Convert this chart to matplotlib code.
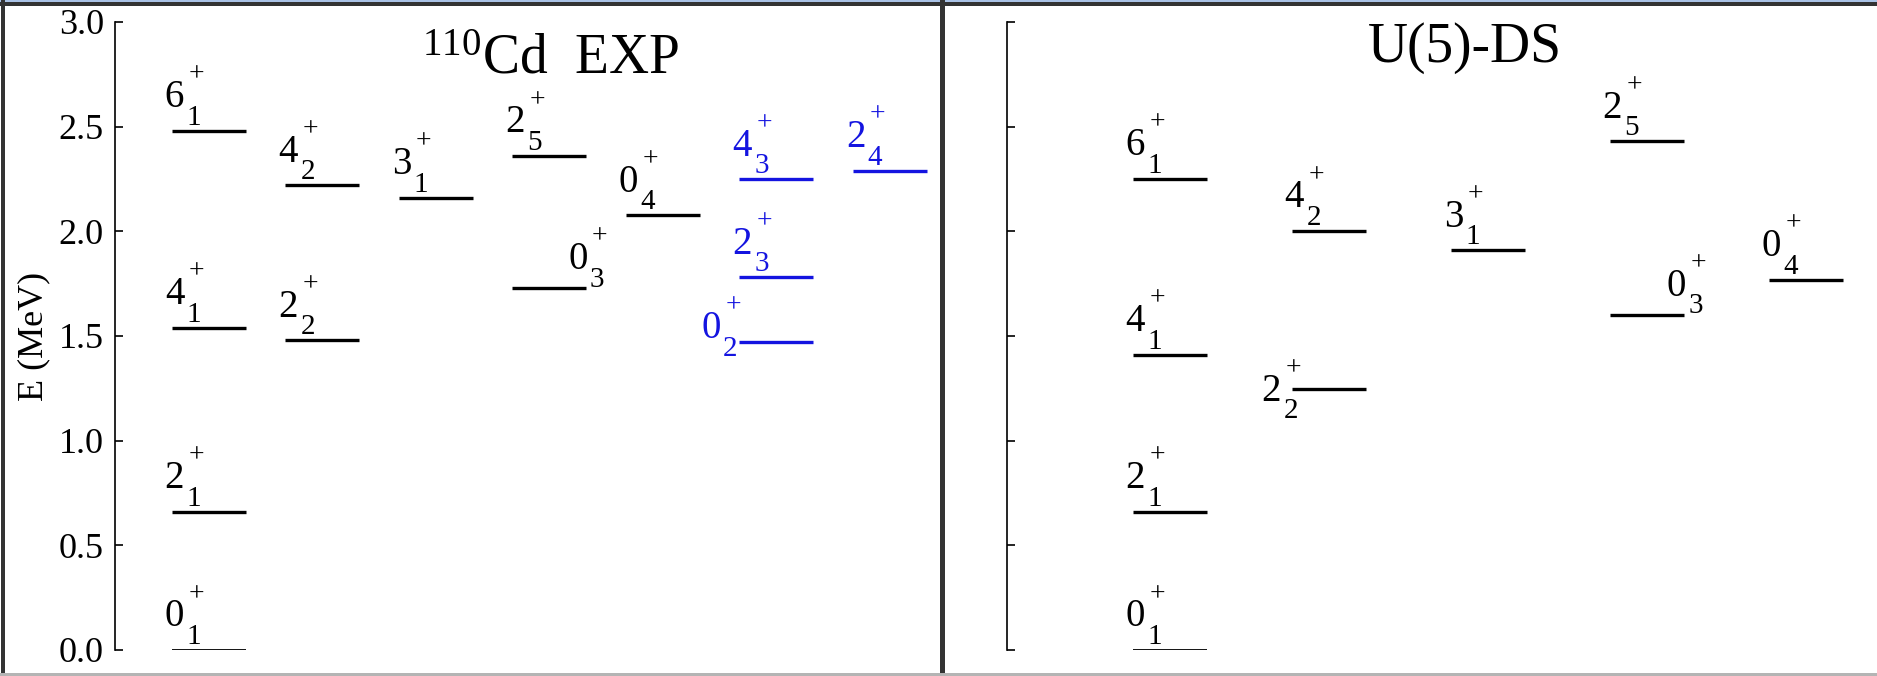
import numpy as np
import matplotlib.pyplot as plt
from matplotlib.patches import Rectangle

plt.rcParams['font.family'] = 'serif'
plt.rcParams['font.serif'] = ['Liberation Serif']
plt.rcParams['mathtext.fontset'] = 'custom'
plt.rcParams['mathtext.rm'] = 'Liberation Serif'
plt.rcParams['mathtext.it'] = 'Liberation Serif:italic'
plt.rcParams['mathtext.bf'] = 'Liberation Serif:bold'

# 110Cd experimental levels (MeV)
exp_states = ['0_1', '2_1', '4_1', '6_1', '2_2', '4_2', '3_1', '0_3', '2_5', '0_4', '0_2', '2_3', '4_3', '2_4']
exp_energy = [0.0, 0.661, 1.540, 2.480, 1.479, 2.220, 2.160, 1.728, 2.360, 2.078, 1.470, 1.781, 2.249, 2.289]
exp_column = [0, 0, 0, 0, 1, 1, 2, 3, 3, 4, 5, 5, 5, 6]
exp_intruder = ['0_2', '2_3', '4_3', '2_4']

# U(5) dynamical symmetry levels (MeV)
ds_states = ['0_1', '2_1', '4_1', '6_1', '2_2', '4_2', '3_1', '0_3', '2_5', '0_4']
ds_energy = [0.0, 0.661, 1.411, 2.251, 1.248, 2.002, 1.909, 1.601, 2.430, 1.769]
ds_column = [0, 0, 0, 0, 1, 1, 2, 3, 3, 4]

yticks = [0.0, 0.5, 1.0, 1.5, 2.0, 2.5, 3.0]

W, H = 1877, 676
fig = plt.figure(figsize=(W / 100, H / 100), dpi=100)


def px_box(x0, y0, x1, y1):
    return [x0 / W, 1 - y1 / H, (x1 - x0) / W, (y1 - y0) / H]


def put_label(ax, x, y, dx, dy, state, color):
    # J on the baseline, level index below, parity above (offsets in pixels)
    j, k = state.split('_')
    kw = dict(xycoords='data', textcoords='offset pixels', ha='left', color=color,
              annotation_clip=False)
    ax.annotate(j, (x, y), (dx, dy), va='baseline', fontsize=28, **kw)
    ax.annotate(k, (x, y), (dx + 22, dy - 17.5), va='baseline', fontsize=21, **kw)
    ax.annotate('+', (x, y), (dx + 24, dy + 32), va='center', fontsize=20, **kw)


def draw_levels(ax, states, energy, column, offset, width, placement, blue=()):
    for s, e, c in zip(states, energy, column):
        col = '#1414e0' if s in blue else 'black'
        x0 = offset + c
        x1 = x0 + width
        lw = 1.3 if s == '0_1' else 2.4
        ax.plot([x0, x1], [e, e], color=col, lw=lw, solid_capstyle='butt')
        kind, dx, dy = placement.get(s, ('start', -7, 23.5))
        put_label(ax, x1 if kind == 'end' else x0, e, dx, dy, s, col)


def style_axis(ax, xmax):
    ax.set_xlim(0, xmax)
    ax.set_ylim(0, 3.0)
    for side in ['top', 'right', 'bottom']:
        ax.spines[side].set_visible(False)
    ax.spines['left'].set_linewidth(1.2)
    ax.set_xticks([])
    ax.set_yticks(yticks)
    ax.tick_params(axis='y', direction='in', length=6, width=1.2, pad=8, labelsize=26)


# left panel: experiment
ax1 = fig.add_axes(px_box(115, 22, 940, 650))
style_axis(ax1, 825 / 113.5)
ax1.set_yticklabels(['%.1f' % t for t in yticks])
ax1.set_ylabel('E (MeV)', fontsize=26)
ax1.yaxis.set_label_coords(-0.078, 0.5)
draw_levels(ax1, exp_states, exp_energy, exp_column, 0.5, 0.65,
            {'0_3': ('end', -18, 19), '0_2': ('start', -38, 4)},
            blue=exp_intruder)
ax1.text(3.84, 2.755, r'$^{110}$Cd  EXP', ha='center', va='baseline', fontsize=40)

# right panel: U(5)-DS
ax2 = fig.add_axes(px_box(1007, 22, 1877, 650))
style_axis(ax2, 870 / 159)
ax2.set_yticklabels([])
draw_levels(ax2, ds_states, ds_energy, ds_column, 0.79, 0.465,
            {'0_3': ('end', -17, 19), '2_2': ('start', -30, -12)})
ax2.text(2.88, 2.81, 'U(5)-DS', ha='center', va='baseline', fontsize=40)

# panel frame
frame = [
    (0, 0, W, 2, '#a9c2e6'),
    (0, 2, W, 6, '#333333'),
    (1, 0, 5, H, '#333333'),
    (940, 0, 945, H, '#333333'),
    (0, H - 3, W, H, '#b4b4b4'),
]
for x0, y0, x1, y1, c in frame:
    fig.add_artist(Rectangle((x0 / W, 1 - y1 / H), (x1 - x0) / W, (y1 - y0) / H,
                             transform=fig.transFigure, color=c, lw=0))

fig.savefig('out.png', dpi=100)
